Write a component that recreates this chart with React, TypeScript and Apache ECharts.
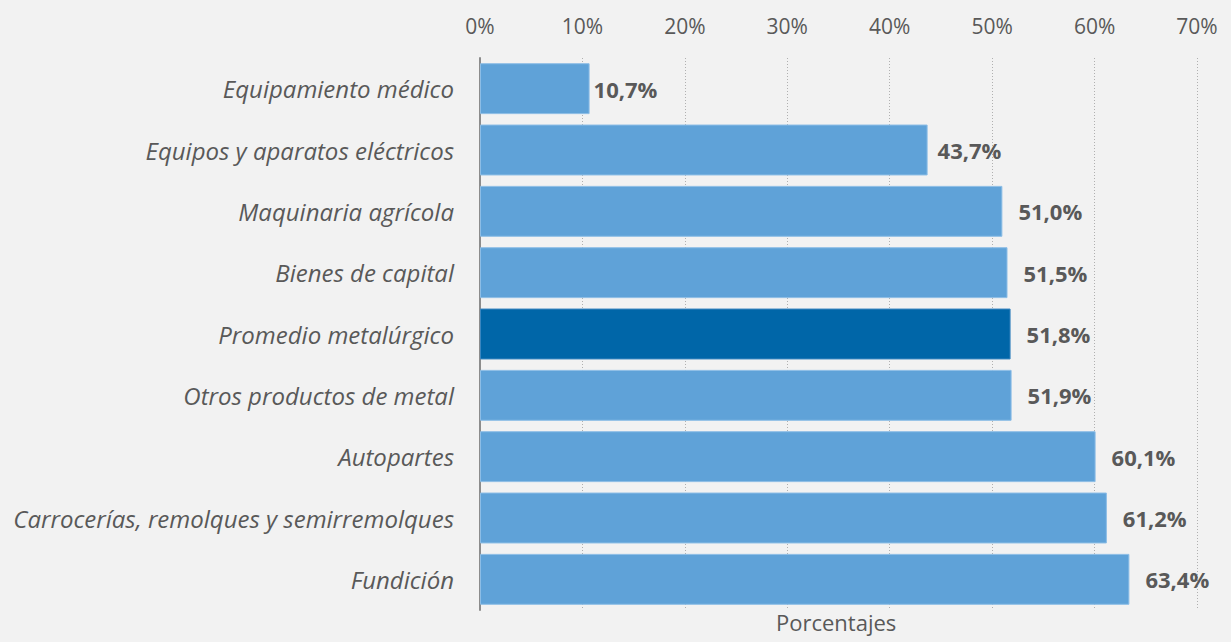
import React, { useEffect, useRef } from "react";
import * as echarts from "echarts";

const categories = [
  "Equipamiento médico",
  "Equipos y aparatos eléctricos",
  "Maquinaria agrícola",
  "Bienes de capital",
  "Promedio metalúrgico",
  "Otros productos de metal",
  "Autopartes",
  "Carrocerías, remolques y semirremolques",
  "Fundición",
];
const values = [10.7, 43.7, 51.0, 51.5, 51.8, 51.9, 60.1, 61.2, 63.4];
const highlight = "Promedio metalúrgico";
const axisTitle = "Porcentajes";

const FONT = "'Open Sans', sans-serif";
const GRAY = "#595959";

export default function App() {
  const ref = useRef<HTMLDivElement>(null);
  useEffect(() => {
    if (!ref.current) return;
    const chart = echarts.init(ref.current, null, { renderer: "svg" });
    chart.setOption({
      animation: false,
      backgroundColor: "#f2f2f2",
      grid: { left: 480, right: 34, top: 58, bottom: 32, containLabel: false },
      xAxis: {
        type: "value",
        position: "top",
        min: 0,
        max: 70,
        interval: 10,
        axisLine: { show: false },
        axisTick: { show: false },
        axisLabel: {
          formatter: (v: number) => `${v}%`,
          color: GRAY,
          fontFamily: FONT,
          fontSize: 21,
          margin: 22,
        },
        splitLine: { show: true, lineStyle: { type: [1, 2], color: "#b0b0b0", width: 1 } },
      },
      yAxis: {
        type: "category",
        inverse: true,
        data: categories,
        axisLine: { show: true, lineStyle: { color: "#8c8c8c", width: 2 } },
        axisTick: { show: false },
        axisLabel: {
          color: GRAY,
          fontFamily: FONT,
          fontStyle: "italic",
          fontSize: 24,
          margin: 26,
        },
      },
      series: [
        {
          type: "bar",
          barCategoryGap: "17%",
          data: values.map((v, i) => {
            const hl = categories[i] === highlight;
            return {
              value: v,
              itemStyle: {
                color: hl ? "#0066a8" : "#5fa2d8",
                borderColor: hl ? "#3a86c0" : "#8cbde6",
                borderWidth: 1,
              },
              label: { distance: i === 0 ? 4 : i === 1 ? 10 : 16 },
            };
          }),
          label: {
            show: true,
            position: "right",
            formatter: (p: any) => `${p.value.toFixed(1).replace(".", ",")}%`,
            color: GRAY,
            fontFamily: FONT,
            fontWeight: "bold",
            fontSize: 22,
          },
        },
      ],
      graphic: [
        {
          type: "text",
          left: 776,
          top: 611,
          style: { text: axisTitle, fill: GRAY, font: `22px ${FONT}` },
        },
      ],
    });
    return () => chart.dispose();
  }, []);
  return <div ref={ref} style={{ width: 1231, height: 642, position: "fixed", left: 0, top: 0 }} />;
}
